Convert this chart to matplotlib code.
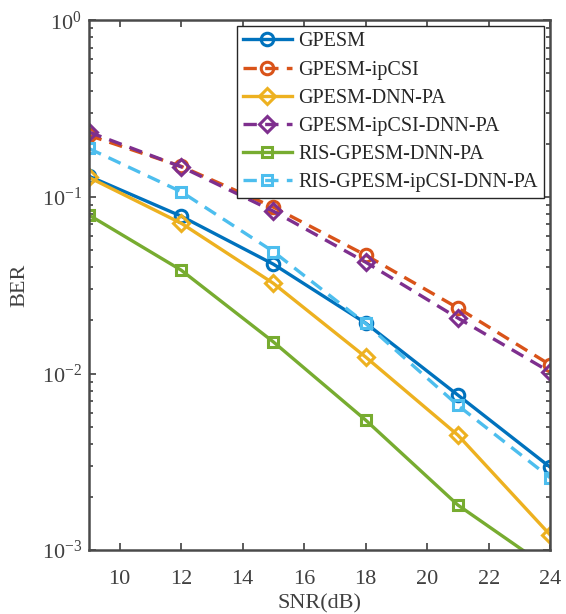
import math
import matplotlib
matplotlib.use("Agg")
import matplotlib.pyplot as plt
from matplotlib.ticker import LogLocator, FixedLocator, FuncFormatter, NullFormatter

plt.rcParams['font.family'] = ['Liberation Serif', 'DejaVu Serif']
plt.rcParams['mathtext.fontset'] = 'custom'
plt.rcParams['mathtext.rm'] = 'Liberation Serif'
plt.rcParams['mathtext.it'] = 'Liberation Serif:italic'

snr = [9, 12, 15, 18, 21, 24]
names = ["GPESM", "GPESM-ipCSI", "GPESM-DNN-PA", "GPESM-ipCSI-DNN-PA",
         "RIS-GPESM-DNN-PA", "RIS-GPESM-ipCSI-DNN-PA"]
ber_gpesm = [0.131, 0.0778, 0.0416, 0.0193, 0.00755, 0.00295]
ber_gpesm_ipcsi = [0.223, 0.149, 0.0875, 0.0468, 0.0235, 0.0112]
ber_gpesm_dnn = [0.129, 0.071, 0.0324, 0.0124, 0.00448, 0.00122]
ber_gpesm_ipcsi_dnn = [0.233, 0.148, 0.083, 0.0427, 0.0206, 0.0102]
ber_ris_dnn = [0.079, 0.0385, 0.0151, 0.00545, 0.0018, 0.00078]
ber_ris_ipcsi_dnn = [0.188, 0.107, 0.049, 0.0192, 0.0066, 0.00257]
xticks = [10, 12, 14, 16, 18, 20, 22, 24]

series = [ber_gpesm, ber_gpesm_ipcsi, ber_gpesm_dnn, ber_gpesm_ipcsi_dnn,
          ber_ris_dnn, ber_ris_ipcsi_dnn]
colors = ['#0072BD', '#D95319', '#EDB120', '#7E2F8E', '#77AC30', '#4DBEEE']
markers = ['o', 'o', 'D', 'D', 's', 's']
msizes = [9, 9, 8, 8, 7, 7]
dashed = [False, True, False, True, False, True]

fig = plt.figure(figsize=(5.66, 6.14), dpi=100)
ax = fig.add_axes([0.157, 0.104, 0.815, 0.863])
for ys, c, m, ms, d, n in zip(series, colors, markers, msizes, dashed, names):
    ln, = ax.plot(snr, ys, color=c, marker=m, markersize=ms, markerfacecolor='none',
                  markeredgewidth=2.2, linewidth=2.4, label=n)
    if d:
        ln.set_dashes([4.0, 2.5])

ax.set_yscale('log')
ax.set_xlim(9, 24)
ax.set_ylim(1e-3, 1)
ax.xaxis.set_major_locator(FixedLocator(xticks))
ax.yaxis.set_major_locator(LogLocator(base=10, numticks=10))
ax.yaxis.set_minor_locator(LogLocator(base=10, subs=range(2, 10), numticks=20))
ax.yaxis.set_minor_formatter(NullFormatter())
ax.yaxis.set_major_formatter(FuncFormatter(
    lambda v, p: r'$\mathregular{10^{%d}}$' % round(math.log10(v))))

tc = '#404040'
ax.tick_params(which='both', direction='in', top=True, right=True, colors=tc,
               labelcolor='#404040', labelsize=16, width=1.2)
ax.tick_params(which='major', length=5)
ax.tick_params(which='minor', length=3)
ax.tick_params(axis='x', which='major', pad=14)
ax.tick_params(axis='y', which='major', pad=5)
for s in ax.spines.values():
    s.set_color('#4a4a4a')
    s.set_linewidth(1.8)

ax.set_xlabel('SNR(dB)', fontsize=16, color='#404040', labelpad=4)
ax.set_ylabel('BER', fontsize=16, color='#404040', labelpad=9)

leg = ax.legend(loc='upper right', fontsize=14.5, handlelength=2.4, handletextpad=0.35,
                borderaxespad=0.3, labelspacing=0.45, fancybox=False, framealpha=1,
                borderpad=0.3)
leg.get_frame().set_edgecolor('#262626')
leg.get_frame().set_linewidth(1.0)
for t in leg.get_texts():
    t.set_color('#262626')

fig.savefig('out.png', dpi=100)
